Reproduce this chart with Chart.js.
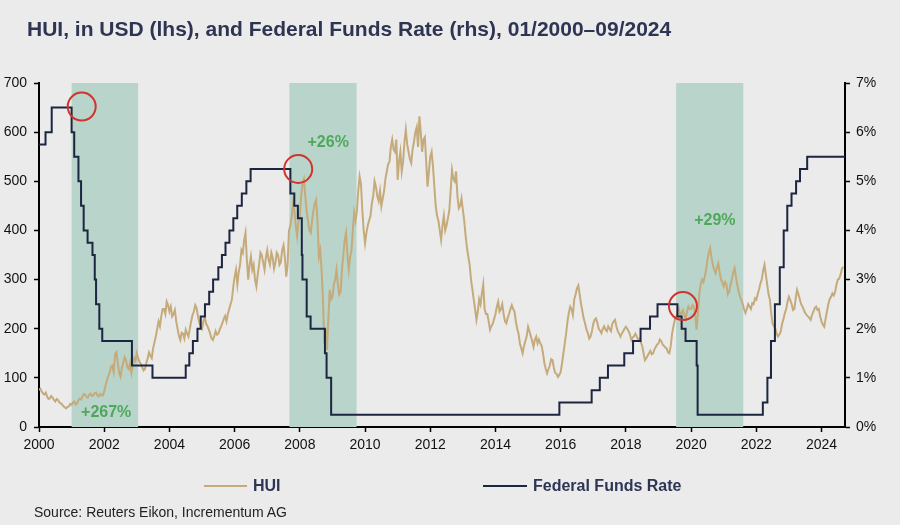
<!DOCTYPE html>
<html>
<head>
<meta charset="utf-8">
<script src="https://cdn.jsdelivr.net/npm/chart.js@4.4.1/dist/chart.umd.min.js"></script>
<style>
  html, body { margin: 0; padding: 0; background: #ebebeb; }
  #wrap { position: relative; width: 900px; height: 525px; overflow: hidden; font-family: "Liberation Sans", Arial, sans-serif; }
  #chart { position: absolute; left: 0; top: 0; }
  .title { position: absolute; left: 27px; top: 17px; font-size: 21px; line-height: 24px; font-weight: bold; color: #2e3553; white-space: nowrap; }
  .legend { position: absolute; top: 476px; font-size: 16px; line-height: 20px; font-weight: bold; color: #2e3553; white-space: nowrap; }
  .swatch { position: absolute; height: 2px; top: 485px; }
  .source { position: absolute; left: 34px; top: 503px; font-size: 14px; line-height: 18px; color: #222; white-space: nowrap; }
</style>
</head>
<body>
<div id="wrap">
  <canvas id="chart" width="900" height="525"></canvas>
  <div class="title">HUI, in USD (lhs), and Federal Funds Rate (rhs), 01/2000–09/2024</div>
  <div class="swatch" style="left:204px; width:43px; background:#c5ab7b;"></div>
  <div class="legend" style="left:253px;">HUI</div>
  <div class="swatch" style="left:483px; width:44px; background:#1c2641;"></div>
  <div class="legend" style="left:533px;">Federal Funds Rate</div>
  <div class="source">Source: Reuters Eikon, Incrementum AG</div>
</div>
<script>
// HUI, start of each month from 01/2000
var huiStart = 2000;
var huiValues = [
  75, 72, 66, 62, 58, 60, 52, 55, 48, 42, 38, 42,          // 2000
  45, 52, 48, 58, 62, 66, 60, 68, 64, 70, 62, 65,          // 2001
  72, 95, 110, 125, 148, 130, 102, 130, 136, 118, 110, 140, // 2002
  150, 132, 122, 118, 140, 145, 160, 185, 215, 225, 240, 255, // 2003
  235, 225, 238, 200, 177, 190, 198, 184, 215, 235, 242, 212, // 2004
  200, 225, 205, 190, 177, 195, 190, 204, 220, 215, 240, 260, // 2005
  306, 290, 330, 354, 395, 300, 347, 330, 286, 330, 350, 320, // 2006
  360, 330, 345, 334, 350, 335, 370, 306, 400, 428, 440, 388, // 2007
  430, 497, 470, 420, 395, 440, 462, 347, 320, 170, 157, 279, // 2008
  265, 300, 290, 275, 350, 395, 320, 360, 436, 440, 510, 440, // 2009
  374, 410, 430, 470, 489, 460, 449, 480, 520, 540, 585, 560, // 2010
  503, 560, 540, 605, 560, 537, 580, 610, 632, 560, 590, 489, // 2011
  550, 530, 450, 420, 381, 430, 410, 440, 523, 500, 470, 450, // 2012
  442, 390, 347, 300, 259, 218, 260, 272, 240, 230, 198, 210, // 2013
  230, 255, 240, 230, 211, 230, 248, 235, 200, 170, 150, 175, // 2014
  204, 185, 163, 184, 178, 165, 130, 109, 125, 136, 110, 102, // 2015
  112, 150, 190, 232, 240, 260, 282, 270, 235, 210, 191, 184, // 2016
  210, 221, 200, 191, 205, 195, 200, 210, 218, 195, 184, 195, // 2017
  204, 195, 177, 185, 184, 180, 165, 136, 145, 155, 150, 163, // 2018
  170, 175, 165, 160, 150, 190, 218, 230, 225, 238, 220, 245, // 2019
  240, 245, 198, 270, 300, 305, 340, 364, 330, 313, 333, 300, // 2020
  286, 290, 275, 300, 323, 290, 265, 250, 232, 250, 240, 250, // 2021
  259, 280, 300, 330, 290, 259, 210, 200, 184, 195, 220, 240, // 2022
  265, 250, 240, 279, 260, 245, 232, 225, 218, 235, 245, 240, // 2023
  215, 204, 235, 260, 272, 275, 300, 310, 326                 // 2024
];
// HUI, middle of each month
var huiMidValues = [
  78, 68, 70, 57, 63, 55, 57, 50, 46, 40, 41, 47,
  50, 46, 55, 56, 67, 61, 66, 63, 69, 64, 67, 64,
  85, 104, 122, 112, 152, 110, 120, 142, 122, 130, 125, 135,
  140, 128, 115, 130, 152, 140, 172, 200, 205, 240, 230, 248,
  245, 230, 215, 185, 192, 180, 190, 200, 228, 248, 225, 205,
  215, 210, 198, 180, 185, 188, 198, 212, 226, 230, 250, 285,
  320, 315, 360, 380, 340, 330, 320, 300, 310, 355, 335, 345,
  340, 355, 322, 355, 330, 360, 345, 330, 410, 455, 410, 420,
  470, 505, 440, 400, 420, 455, 420, 360, 260, 200, 220, 260,
  290, 320, 270, 320, 380, 350, 345, 400, 420, 480, 495, 400,
  395, 420, 455, 500, 470, 480, 465, 505, 535, 570, 565, 585,
  540, 520, 580, 575, 545, 565, 600, 570, 600, 585, 540, 520,
  560, 490, 430, 400, 410, 400, 425, 480, 505, 520, 445, 465,
  420, 365, 330, 280, 240, 235, 250, 290, 230, 215, 205, 220,
  245, 235, 250, 215, 222, 240, 240, 215, 190, 160, 165, 185,
  195, 175, 178, 170, 170, 150, 118, 118, 138, 120, 108, 106,
  130, 170, 215, 245, 228, 270, 288, 250, 220, 198, 180, 195,
  218, 212, 196, 200, 198, 205, 195, 215, 205, 190, 190, 200,
  200, 188, 182, 190, 178, 172, 150, 140, 150, 148, 158, 168,
  178, 168, 162, 152, 165, 205, 225, 240, 232, 228, 235, 240,
  248, 230, 230, 290, 295, 320, 355, 345, 320, 325, 315, 295,
  295, 270, 290, 315, 305, 275, 258, 240, 240, 245, 252, 262,
  270, 292, 318, 310, 270, 230, 205, 190, 188, 210, 232, 255,
  258, 238, 262, 270, 250, 238, 228, 222, 228, 242, 238, 225,
  208, 220, 250, 265, 268, 290, 302, 322
];

// Federal Funds Rate (target / upper bound): date of change and new level in %
var rateDates = [
  2000.0, 2000.2, 2000.39, 2001.0, 2001.08, 2001.21, 2001.29, 2001.37, 2001.49, 2001.64,
  2001.71, 2001.75, 2001.85, 2001.94, 2002.85, 2003.48, 2004.5, 2004.61, 2004.72, 2004.86,
  2004.96, 2005.09, 2005.22, 2005.34, 2005.5, 2005.61, 2005.72, 2005.84, 2005.96, 2006.08,
  2006.22, 2006.36, 2006.49, 2007.71, 2007.83, 2007.94, 2008.06, 2008.08, 2008.21, 2008.33,
  2008.77, 2008.82, 2008.96, 2015.96, 2016.95, 2017.2, 2017.45, 2017.95, 2018.22, 2018.45,
  2018.74, 2018.97, 2019.58, 2019.71, 2019.83, 2020.17, 2020.2, 2022.2, 2022.34, 2022.45,
  2022.57, 2022.72, 2022.84, 2022.95, 2023.08, 2023.22, 2023.34, 2023.56, 2024.72
];
var rateValues = [
  5.75, 6.0, 6.5, 6.0, 5.5, 5.0, 4.5, 4.0, 3.75, 3.5,
  3.0, 2.5, 2.0, 1.75, 1.25, 1.0, 1.25, 1.5, 1.75, 2.0,
  2.25, 2.5, 2.75, 3.0, 3.25, 3.5, 3.75, 4.0, 4.25, 4.5,
  4.75, 5.0, 5.25, 4.75, 4.5, 4.25, 3.5, 3.0, 2.25, 2.0,
  1.5, 1.0, 0.25, 0.5, 0.75, 1.0, 1.25, 1.5, 1.75, 2.0,
  2.25, 2.5, 2.25, 2.0, 1.75, 1.25, 0.25, 0.5, 1.0, 1.75,
  2.5, 3.25, 4.0, 4.5, 4.75, 5.0, 5.25, 5.5, 5.5
];

// shaded periods (start, end)
var shadeRanges = [[2001.0, 2003.04], [2007.68, 2009.74], [2019.54, 2021.6]];
// red circles: year, rate %
var circleMarks = [[2001.31, 6.52], [2007.95, 5.25], [2019.75, 2.46]];
// callouts: text, year, HUI level
var calloutTexts = ["+267%", "+26%", "+29%"];
var calloutPos = [[2002.06, 29], [2008.87, 579], [2020.73, 420]];

var huiPoints = [];
huiValues.forEach(function(v, i) {
  huiPoints.push({ x: huiStart + i / 12, y: v });
  if (i < huiMidValues.length) huiPoints.push({ x: huiStart + (i + 0.5) / 12, y: huiMidValues[i] });
});
var ratePoints = rateDates.map(function(d, i) { return { x: d, y: rateValues[i] }; });

var overlays = {
  id: 'overlays',
  beforeDatasetsDraw: function(chart) {
    var ctx = chart.ctx, area = chart.chartArea, x = chart.scales.x;
    ctx.save();
    ctx.fillStyle = '#b8d4cb';
    shadeRanges.forEach(function(r) {
      var x0 = x.getPixelForValue(r[0]), x1 = x.getPixelForValue(r[1]);
      ctx.fillRect(x0, area.top, x1 - x0, area.bottom - area.top);
    });
    ctx.restore();
  },
  afterDatasetsDraw: function(chart) {
    var ctx = chart.ctx, x = chart.scales.x, y = chart.scales.y, y2 = chart.scales.y2;
    ctx.save();
    ctx.strokeStyle = '#d0342c';
    ctx.lineWidth = 2;
    circleMarks.forEach(function(c) {
      ctx.beginPath();
      ctx.arc(x.getPixelForValue(c[0]), y2.getPixelForValue(c[1]), 14, 0, Math.PI * 2);
      ctx.stroke();
    });
    ctx.fillStyle = '#4fa85a';
    ctx.font = 'bold 16px "Liberation Sans", Arial, sans-serif';
    ctx.textAlign = 'center';
    ctx.textBaseline = 'middle';
    calloutTexts.forEach(function(t, i) {
      ctx.fillText(t, x.getPixelForValue(calloutPos[i][0]), y.getPixelForValue(calloutPos[i][1]));
    });
    ctx.restore();
  }
};

var tickFont = { family: '"Liberation Sans", Arial, sans-serif', size: 14 };

new Chart(document.getElementById('chart').getContext('2d'), {
  type: 'line',
  data: {
    datasets: [{
      label: 'Federal Funds Rate',
      data: ratePoints,
      yAxisID: 'y2',
      borderColor: '#1c2641',
      borderWidth: 2,
      stepped: true,
      pointRadius: 0
    }, {
      label: 'HUI',
      data: huiPoints,
      yAxisID: 'y',
      borderColor: '#c5ab7b',
      borderWidth: 2,
      tension: 0,
      pointRadius: 0
    }]
  },
  options: {
    responsive: false,
    animation: false,
    layout: { padding: { top: 83, bottom: 68, left: 0, right: 0 } },
    plugins: { legend: { display: false }, tooltip: { enabled: false } },
    scales: {
      x: {
        type: 'linear',
        min: 2000,
        max: 2024.72,
        afterFit: function(s) { s.height = 30; },
        ticks: { stepSize: 2, includeBounds: false, color: '#111', font: tickFont, padding: 5, maxRotation: 0,
                 callback: function(v) { return String(v); } },
        grid: { drawOnChartArea: false, tickLength: 5, tickColor: '#000', tickWidth: 1.5 },
        border: { color: '#000', width: 2 }
      },
      y: {
        position: 'left',
        min: 0,
        max: 700,
        afterFit: function(s) { s.width = 39; },
        ticks: { stepSize: 100, color: '#111', font: tickFont, padding: 7 },
        grid: { drawOnChartArea: false, tickLength: 5, tickColor: '#000', tickWidth: 1.5 },
        border: { color: '#000', width: 2 }
      },
      y2: {
        position: 'right',
        min: 0,
        max: 7,
        afterFit: function(s) { s.width = 55; },
        ticks: { stepSize: 1, color: '#111', font: tickFont, padding: 6,
                 callback: function(v) { return v + '%'; } },
        grid: { drawOnChartArea: false, tickLength: 5, tickColor: '#000', tickWidth: 1.5 },
        border: { color: '#000', width: 2 }
      }
    }
  },
  plugins: [overlays]
});
</script>
</body>
</html>
